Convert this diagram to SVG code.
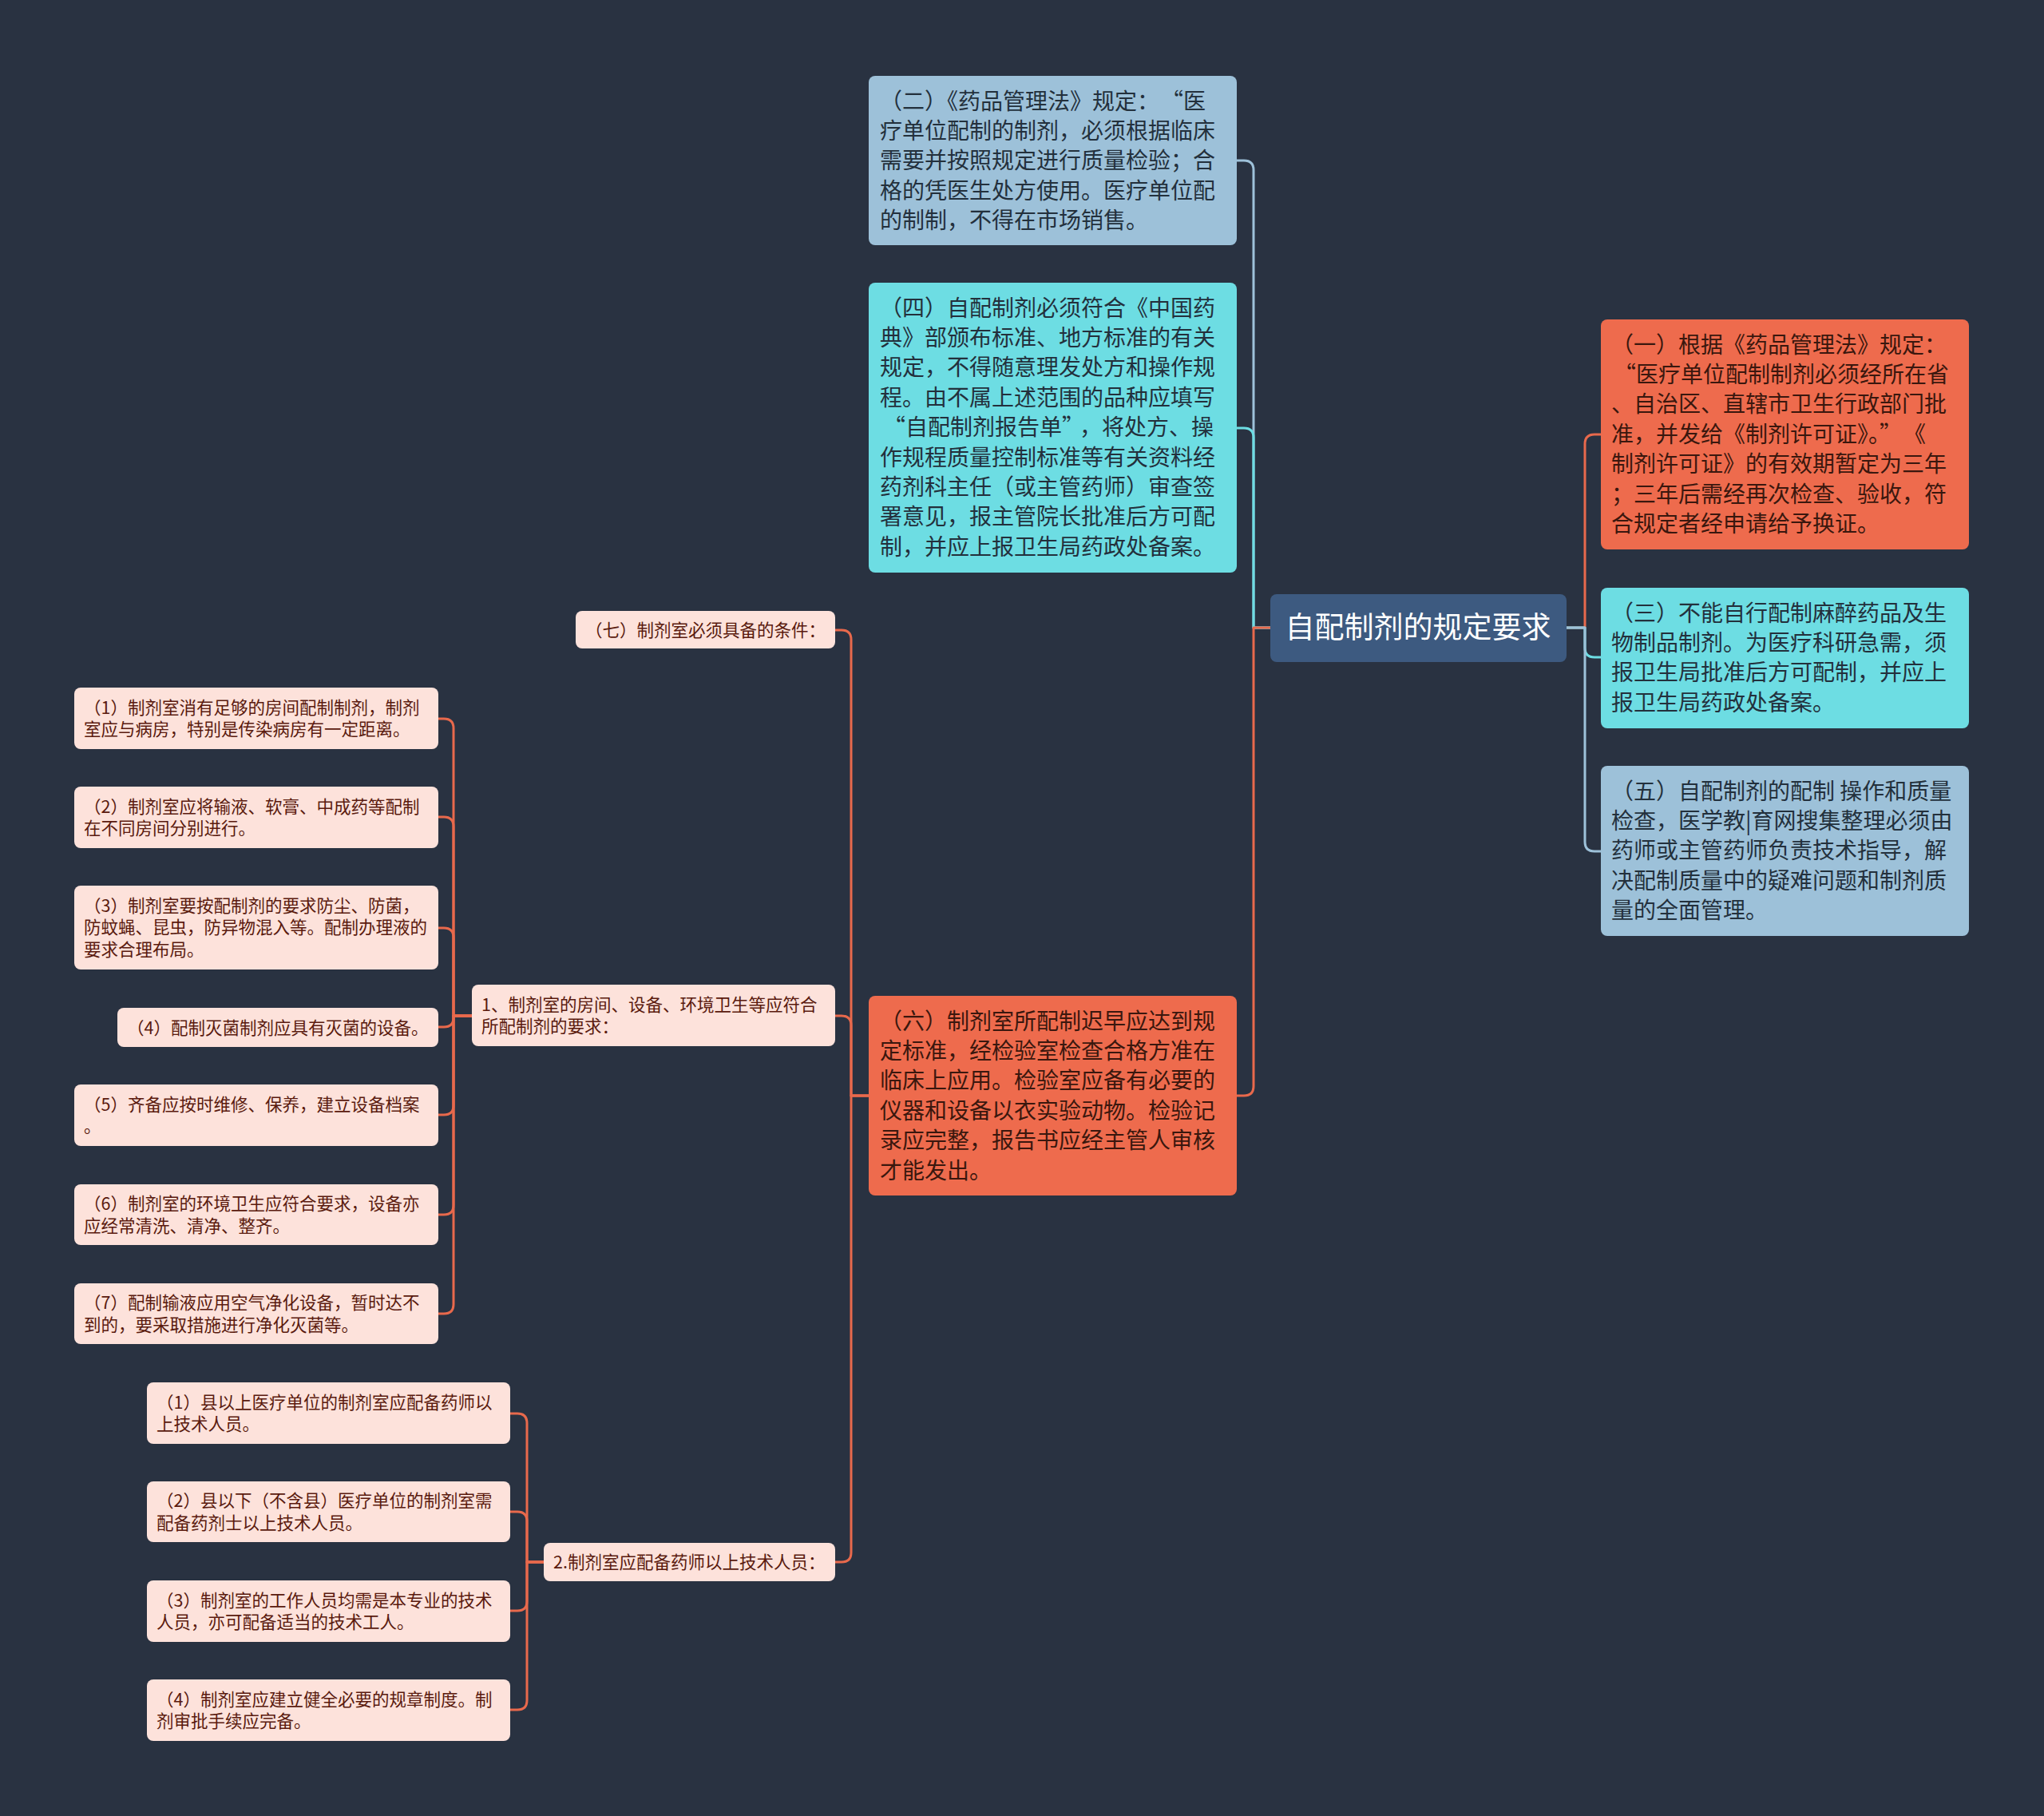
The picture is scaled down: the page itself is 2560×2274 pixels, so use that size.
<svg xmlns="http://www.w3.org/2000/svg" width="2560" height="2274" viewBox="0 0 2560 2274">
<style>
text{font-family:"Noto Sans CJK SC","Noto Sans",sans-serif;}
.big{font-size:28px;}
.sm{font-size:21.5px;fill:#5a1a0e;}
.tb{fill:#23303c;}
.tc{fill:#3a170e;}
.bx{rx:8;ry:8;}
.blue{fill:#9dc1d9;}
.cyan{fill:#6ddde3;}
.coral{fill:#ee6b4d;}
.pink{fill:#fde2db;}
.root{fill:#3d5a80;}
.c{fill:none;stroke-width:3;stroke-linejoin:round;}
.cb{stroke:#9dc1d9;}
.cc{stroke:#6ddde3;}
.co{stroke:#e8694c;}
</style>
<rect x="0" y="0" width="2560" height="2274" fill="#293241"/>

<g id="connectors">
  <path class="c cb" d="M1592,786 H1570 V213 Q1570,201 1558,201 H1549"/>
  <path class="c cc" d="M1592,786 H1570 V548 Q1570,536 1558,536 H1549"/>
  <path class="c co" d="M1592,786 H1570 V1360 Q1570,1372 1558,1372 H1549"/>
  <path class="c co" d="M1962,786 H1985 V556 Q1985,544 1997,544 H2005"/>
  <path class="c cc" d="M1962,786 H1985 V811 Q1985,823 1997,823 H2005"/>
  <path class="c cb" d="M1962,786 H1985 V1054 Q1985,1066 1997,1066 H2005"/>
  <path class="c co" d="M1089,1372 H1066 V801 Q1066,789 1054,789 H1046"/>
  <path class="c co" d="M1089,1372 H1066 V1284 Q1066,1272 1054,1272 H1046"/>
  <path class="c co" d="M1089,1372 H1066 V1944 Q1066,1956 1054,1956 H1046"/>
  <path class="c co" d="M591,1272 H568 V912 Q568,900 556,900 H549"/>
  <path class="c co" d="M591,1272 H568 V1035 Q568,1023 556,1023 H549"/>
  <path class="c co" d="M591,1272 H568 V1174 Q568,1162 556,1162 H549"/>
  <path class="c co" d="M591,1272 H568 V1274 Q568,1286 556,1286 H549"/>
  <path class="c co" d="M591,1272 H568 V1384 Q568,1396 556,1396 H549"/>
  <path class="c co" d="M591,1272 H568 V1509 Q568,1521 556,1521 H549"/>
  <path class="c co" d="M591,1272 H568 V1633 Q568,1645 556,1645 H549"/>
  <path class="c co" d="M681,1956 H660 V1782 Q660,1770 648,1770 H639"/>
  <path class="c co" d="M681,1956 H660 V1905 Q660,1893 648,1893 H639"/>
  <path class="c co" d="M681,1956 H660 V2005 Q660,2017 648,2017 H639"/>
  <path class="c co" d="M681,1956 H660 V2129 Q660,2141 648,2141 H639"/>
</g>

<g id="root">
  <rect class="bx root" x="1591" y="744" width="371" height="85"/>
  <text x="1776" y="799" font-size="37" fill="#ffffff" text-anchor="middle">自配制剂的规定要求</text>
</g>

<g id="n2">
  <rect class="bx blue" x="1088" y="95" width="461" height="212"/>
  <text class="big tb">
    <tspan x="1102" y="136.5">（二）《药品管理法》规定：</tspan><tspan dx="16">“医</tspan>
    <tspan x="1102" y="173.9">疗单位配制的制剂，必须根据临床</tspan>
    <tspan x="1102" y="211.3">需要并按照规定进行质量检验；合</tspan>
    <tspan x="1102" y="248.7">格的凭医生处方使用。医疗单位配</tspan>
    <tspan x="1102" y="286.1">的制制，不得在市场销售。</tspan>
  </text>
</g>

<g id="n4">
  <rect class="bx cyan" x="1088" y="354" width="461" height="363"/>
  <text class="big tb">
    <tspan x="1102" y="395.5">（四）自配制剂必须符合《中国药</tspan>
    <tspan x="1102" y="432.9">典》部颁布标准、地方标准的有关</tspan>
    <tspan x="1102" y="470.3">规定，不得随意理发处方和操作规</tspan>
    <tspan x="1102" y="507.7">程。由不属上述范围的品种应填写</tspan>
    <tspan x="1106" y="545.1">“自配制剂报告单”</tspan><tspan dx="8">，将处方、操</tspan>
    <tspan x="1102" y="582.5">作规程质量控制标准等有关资料经</tspan>
    <tspan x="1102" y="619.9">药剂科主任（或主管药师）审查签</tspan>
    <tspan x="1102" y="657.3">署意见，报主管院长批准后方可配</tspan>
    <tspan x="1102" y="694.7">制，并应上报卫生局药政处备案。</tspan>
  </text>
</g>

<g id="n6">
  <rect class="bx coral" x="1088" y="1247" width="461" height="250"/>
  <text class="big tc">
    <tspan x="1102" y="1288.5">（六）制剂室所配制迟早应达到规</tspan>
    <tspan x="1102" y="1325.9">定标准，经检验室检查合格方准在</tspan>
    <tspan x="1102" y="1363.3">临床上应用。检验室应备有必要的</tspan>
    <tspan x="1102" y="1400.7">仪器和设备以衣实验动物。检验记</tspan>
    <tspan x="1102" y="1438.1">录应完整，报告书应经主管人审核</tspan>
    <tspan x="1102" y="1475.5">才能发出。</tspan>
  </text>
</g>

<g id="n1">
  <rect class="bx coral" x="2005" y="400" width="461" height="288"/>
  <text class="big tc">
    <tspan x="2018" y="441.5">（一）根据《药品管理法》规定：</tspan>
    <tspan x="2021" y="478.9">“医疗单位配制制剂必须经所在省</tspan>
    <tspan x="2018" y="516.3">、自治区、直辖市卫生行政部门批</tspan>
    <tspan x="2018" y="553.7">准，并发给《制剂许可证》。”</tspan><tspan dx="16">《</tspan>
    <tspan x="2018" y="591.1">制剂许可证》的有效期暂定为三年</tspan>
    <tspan x="2018" y="628.5">；三年后需经再次检查、验收，符</tspan>
    <tspan x="2018" y="665.9">合规定者经申请给予换证。</tspan>
  </text>
</g>

<g id="n3">
  <rect class="bx cyan" x="2005" y="736" width="461" height="176"/>
  <text class="big tb">
    <tspan x="2018" y="777.5">（三）不能自行配制麻醉药品及生</tspan>
    <tspan x="2018" y="814.9">物制品制剂。为医疗科研急需，须</tspan>
    <tspan x="2018" y="852.3">报卫生局批准后方可配制，并应上</tspan>
    <tspan x="2018" y="889.7">报卫生局药政处备案。</tspan>
  </text>
</g>

<g id="n5">
  <rect class="bx blue" x="2005" y="959" width="461" height="213"/>
  <text class="big tb">
    <tspan x="2018" y="1000.5">（五）自配制剂的配制 操作和质量</tspan>
    <tspan x="2018" y="1037.9">检查，医学教|育网搜集整理必须由</tspan>
    <tspan x="2018" y="1075.3">药师或主管药师负责技术指导，解</tspan>
    <tspan x="2018" y="1112.7">决配制质量中的疑难问题和制剂质</tspan>
    <tspan x="2018" y="1150.1">量的全面管理。</tspan>
  </text>
</g>

<g id="n7">
  <rect class="bx pink" x="721" y="765" width="325" height="47"/>
  <text class="sm" x="733" y="797">（七）制剂室必须具备的条件：</text>
</g>

<g id="s1">
  <rect class="bx pink" x="591" y="1233" width="455" height="77"/>
  <text class="sm">
    <tspan x="603" y="1265.5">1、制剂室的房间、设备、环境卫生等应符合</tspan>
    <tspan x="603" y="1293">所配制剂的要求：</tspan>
  </text>
</g>

<g id="s2">
  <rect class="bx pink" x="681" y="1932" width="365" height="48"/>
  <text class="sm" x="693" y="1964">2.制剂室应配备药师以上技术人员：</text>
</g>

<g id="l1">
  <rect class="bx pink" x="93" y="861" width="456" height="77"/>
  <text class="sm">
    <tspan x="105" y="893.5">（1）制剂室消有足够的房间配制制剂，制剂</tspan>
    <tspan x="105" y="921">室应与病房，特别是传染病房有一定距离。</tspan>
  </text>
</g>
<g id="l2">
  <rect class="bx pink" x="93" y="985" width="456" height="77"/>
  <text class="sm">
    <tspan x="105" y="1017.5">（2）制剂室应将输液、软膏、中成药等配制</tspan>
    <tspan x="105" y="1045">在不同房间分别进行。</tspan>
  </text>
</g>
<g id="l3">
  <rect class="bx pink" x="93" y="1109" width="456" height="105"/>
  <text class="sm">
    <tspan x="105" y="1141.5">（3）制剂室要按配制剂的要求防尘、防菌，</tspan>
    <tspan x="105" y="1169">防蚊蝇、昆虫，防异物混入等。配制办理液的</tspan>
    <tspan x="105" y="1196.5">要求合理布局。</tspan>
  </text>
</g>
<g id="l4">
  <rect class="bx pink" x="147" y="1262" width="402" height="49"/>
  <text class="sm" x="159" y="1294.5">（4）配制灭菌制剂应具有灭菌的设备。</text>
</g>
<g id="l5">
  <rect class="bx pink" x="93" y="1358" width="456" height="77"/>
  <text class="sm">
    <tspan x="105" y="1390.5">（5）齐备应按时维修、保养，建立设备档案</tspan>
    <tspan x="105" y="1418">。</tspan>
  </text>
</g>
<g id="l6">
  <rect class="bx pink" x="93" y="1483" width="456" height="76"/>
  <text class="sm">
    <tspan x="105" y="1515">（6）制剂室的环境卫生应符合要求，设备亦</tspan>
    <tspan x="105" y="1542.5">应经常清洗、清净、整齐。</tspan>
  </text>
</g>
<g id="l7">
  <rect class="bx pink" x="93" y="1607" width="456" height="76"/>
  <text class="sm">
    <tspan x="105" y="1639">（7）配制输液应用空气净化设备，暂时达不</tspan>
    <tspan x="105" y="1666.5">到的，要采取措施进行净化灭菌等。</tspan>
  </text>
</g>

<g id="m1">
  <rect class="bx pink" x="184" y="1731" width="455" height="77"/>
  <text class="sm">
    <tspan x="196" y="1763.5">（1）县以上医疗单位的制剂室应配备药师以</tspan>
    <tspan x="196" y="1791">上技术人员。</tspan>
  </text>
</g>
<g id="m2">
  <rect class="bx pink" x="184" y="1855" width="455" height="76"/>
  <text class="sm">
    <tspan x="196" y="1887">（2）县以下（不含县）医疗单位的制剂室需</tspan>
    <tspan x="196" y="1914.5">配备药剂士以上技术人员。</tspan>
  </text>
</g>
<g id="m3">
  <rect class="bx pink" x="184" y="1979" width="455" height="77"/>
  <text class="sm">
    <tspan x="196" y="2011.5">（3）制剂室的工作人员均需是本专业的技术</tspan>
    <tspan x="196" y="2039">人员，亦可配备适当的技术工人。</tspan>
  </text>
</g>
<g id="m4">
  <rect class="bx pink" x="184" y="2103" width="455" height="77"/>
  <text class="sm">
    <tspan x="196" y="2135.5">（4）制剂室应建立健全必要的规章制度。制</tspan>
    <tspan x="196" y="2163">剂审批手续应完备。</tspan>
  </text>
</g>
</svg>
